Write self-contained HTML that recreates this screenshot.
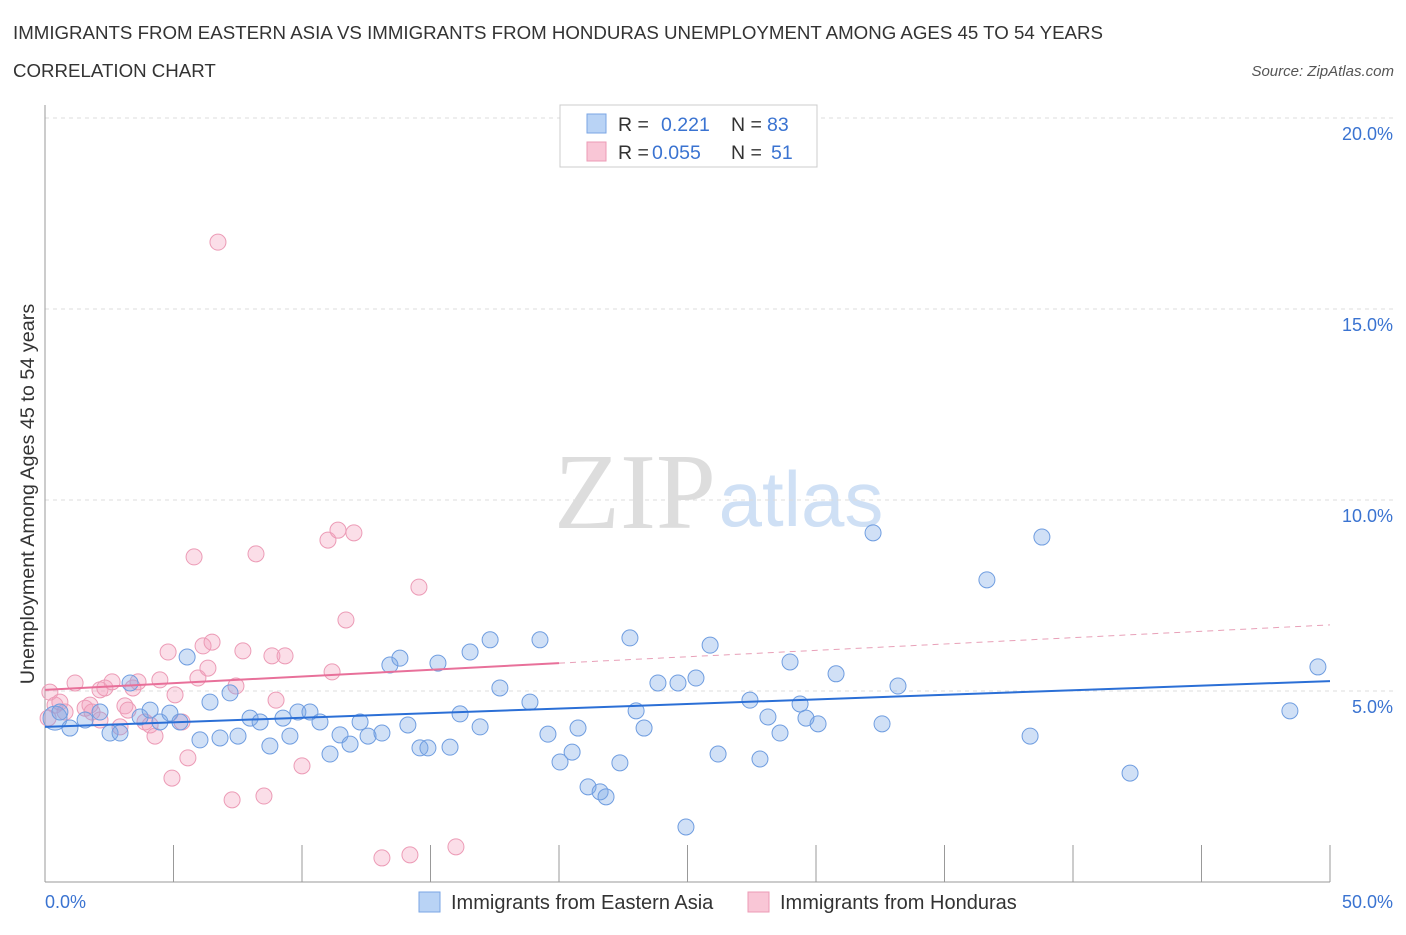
<!DOCTYPE html>
<html><head><meta charset="utf-8"><style>
body{margin:0;background:#fff;font-family:"Liberation Sans",sans-serif;}
</style></head><body>
<svg id="chart" width="1406" height="930" viewBox="0 0 1406 930" xmlns="http://www.w3.org/2000/svg" font-family="Liberation Sans, sans-serif">
<text x="13" y="39" font-size="18.7" fill="#333">IMMIGRANTS FROM EASTERN ASIA VS IMMIGRANTS FROM HONDURAS UNEMPLOYMENT AMONG AGES 45 TO 54 YEARS</text>
<text x="13" y="77" font-size="18.7" fill="#333">CORRELATION CHART</text>
<text x="1394" y="76" font-size="15" fill="#555" font-style="italic" text-anchor="end">Source: ZipAtlas.com</text>
<g>
<text x="635" y="528" font-size="108" fill="#ddd" text-anchor="middle" font-family="Liberation Serif, serif">ZIP</text>
<text x="801" y="526" font-size="78" fill="#cfe0f5" text-anchor="middle">atlas</text>
</g>
<g id="grid"></g>
<g id="axes"></g>
<g id="marks"></g>
<text transform="translate(34,494) rotate(-90)" font-size="19.8" fill="#333" text-anchor="middle">Unemployment Among Ages 45 to 54 years</text>
<g>
<rect x="560" y="105" width="257" height="62" fill="#fff" stroke="#ccc"/>
<rect x="587" y="114" width="19" height="19" fill="#b9d3f5" stroke="#7aa6e4"/>
<rect x="587" y="142" width="19" height="19" fill="#f9c6d6" stroke="#ec9bb6"/>
<text x="618" y="131" font-size="19.5" fill="#333">R = </text><text x="661" y="131" font-size="19.5" fill="#3a73d1">0.221</text>
<text x="731" y="131" font-size="19.5" fill="#333">N = </text><text x="767" y="131" font-size="19.5" fill="#3a73d1">83</text>
<text x="618" y="159" font-size="19.5" fill="#333">R = </text><text x="652" y="159" font-size="19.5" fill="#3a73d1">0.055</text>
<text x="731" y="159" font-size="19.5" fill="#333">N = </text><text x="771" y="159" font-size="19.5" fill="#3a73d1">51</text>
</g>
<g>
<rect x="419" y="892" width="21" height="20" fill="#b9d3f5" stroke="#7aa6e4"/>
<text x="451" y="909" font-size="20" fill="#333">Immigrants from Eastern Asia</text>
<rect x="748" y="892" width="21" height="20" fill="#f9c6d6" stroke="#ec9bb6"/>
<text x="780" y="909" font-size="20" fill="#333">Immigrants from Honduras</text>
</g>
</svg>
<script>
const blueX=[0.39,0.97,0.58,1.56,2.14,2.53,2.92,3.31,3.70,4.09,4.47,4.86,5.25,5.53,6.03,6.42,6.81,7.20,7.51,7.98,8.37,8.75,9.26,9.53,9.84,10.31,10.70,11.09,11.48,11.87,12.26,12.57,13.11,13.42,13.81,14.12,14.59,14.90,15.29,15.76,16.15,16.54,16.93,17.32,17.70,18.87,19.26,19.57,20.04,20.51,20.74,21.13,21.60,21.83,22.37,22.76,23.00,23.31,23.85,24.63,24.94,25.33,25.88,26.19,27.43,27.82,28.13,28.60,28.99,29.38,29.61,30.08,30.78,32.22,32.57,33.19,36.65,38.33,38.79,42.22,48.44,49.53];
const blueY=[4.29,4.03,4.45,4.24,4.45,3.90,3.90,5.21,4.32,4.50,4.19,4.42,4.19,5.89,3.72,4.71,3.77,4.95,3.82,4.29,4.19,3.56,4.29,3.82,4.45,4.45,4.19,3.35,3.85,3.61,4.19,3.82,3.90,5.68,5.86,4.11,3.51,3.51,5.73,3.53,4.40,6.02,4.06,6.34,5.08,4.71,6.34,3.87,3.14,3.40,4.03,2.49,2.36,2.23,3.12,6.39,4.48,4.03,5.21,5.21,1.44,5.34,6.20,3.35,4.76,3.22,4.32,3.90,5.76,4.66,4.29,4.14,5.45,9.14,4.14,5.13,7.91,3.82,9.03,2.85,4.48,5.63];
const pinkX=[0.19,0.39,0.58,0.78,1.17,1.56,1.75,2.14,2.33,2.61,2.92,3.11,3.23,3.42,3.62,3.89,4.09,4.28,4.47,4.79,4.94,5.06,5.33,5.56,5.80,5.95,6.15,6.34,6.50,6.73,7.28,7.43,7.70,8.21,8.52,8.83,8.99,9.34,10.00,11.01,11.17,11.40,11.71,12.02,13.11,14.20,14.55,15.99,1.83,0.12,2.14];
const pinkY=[4.97,4.63,4.71,4.45,5.21,4.55,4.63,5.03,5.08,5.24,4.06,4.61,4.50,5.08,5.24,4.19,4.11,3.82,5.29,6.02,2.72,4.90,4.19,3.25,8.51,5.34,6.18,5.60,6.28,16.75,2.15,5.13,6.05,8.59,2.25,5.92,4.76,5.92,3.04,8.95,5.50,9.21,6.86,9.14,0.63,0.71,7.72,0.92,4.45,4.29,4.24];
const blueTrend=[4.06,5.26];
const pinkTrend=[5.03,5.73,6.73];
const pinkTrendEndX=20;
const yTicks=[5,10,15,20];
const yTickLabels=["5.0%","10.0%","15.0%","20.0%"];
const xEdgeLabels=["0.0%","50.0%"];

const NS="http://www.w3.org/2000/svg";
const X0=45,X1=1330,Y0=882,YPER=38.2;
const sx=v=>X0+(X1-X0)*v/50;
const sy=v=>Y0-v*YPER;
function mk(tag,attrs,parent){const e=document.createElementNS(NS,tag);for(const k in attrs)e.setAttribute(k,attrs[k]);parent.appendChild(e);return e;}
const grid=document.getElementById('grid'),axes=document.getElementById('axes'),marks=document.getElementById('marks');
yTicks.forEach((t,i)=>{
 const l=mk('line',{x1:X0,x2:1395,y1:sy(t),y2:sy(t),stroke:'#ddd','stroke-dasharray':'4,4'},grid);
 
 
 const tx=mk('text',{x:1393,y:sy(t)+22,'font-size':18,fill:'#3a73d1','text-anchor':'end'},grid);
 tx.textContent=yTickLabels[i];
 
 
});
const ax=mk('line',{x1:X0,x2:X0,y1:105,y2:Y0,stroke:'#999'},axes);


const bx=mk('line',{x1:X0,x2:X1,y1:Y0,y2:Y0,stroke:'#999'},axes);


for(let i=0;i<=10;i++){
 const t=mk('line',{x1:sx(i*5),x2:sx(i*5),y1:845,y2:Y0,stroke:'#999'},axes);
 
 
}
[[0,'start',45],[50,'end',1393]].forEach((d,i)=>{
 const t=mk('text',{x:d[2],y:908,'font-size':18,fill:'#3a73d1','text-anchor':d[1]},axes);
 t.textContent=xEdgeLabels[i];
 
 
});
pinkX.forEach((x,i)=>{
 const c=mk('circle',{cx:sx(x),cy:sy(pinkY[i]),r:8,fill:'rgba(244,160,190,0.35)',stroke:'#ec9bb6','stroke-width':1},marks);
 
 
});
blueX.forEach((x,i)=>{
 const c=mk('circle',{cx:sx(x),cy:sy(blueY[i]),r:i===0?12:8,fill:'rgba(120,165,230,0.35)',stroke:'#6f9de0','stroke-width':1},marks);
 
 
});
const bl=mk('line',{x1:sx(0),y1:sy(blueTrend[0]),x2:sx(50),y2:sy(blueTrend[1]),stroke:'#2b6fd6','stroke-width':2},marks);


const pl=mk('line',{x1:sx(0),y1:sy(pinkTrend[0]),x2:sx(pinkTrendEndX),y2:sy(pinkTrend[1]),stroke:'#e8709a','stroke-width':2},marks);


const pd=mk('line',{x1:sx(pinkTrendEndX),y1:sy(pinkTrend[1]),x2:sx(50),y2:sy(pinkTrend[2]),stroke:'#e8a0b8','stroke-width':1,'stroke-dasharray':'6,5'},marks);


</script>
</body></html>
